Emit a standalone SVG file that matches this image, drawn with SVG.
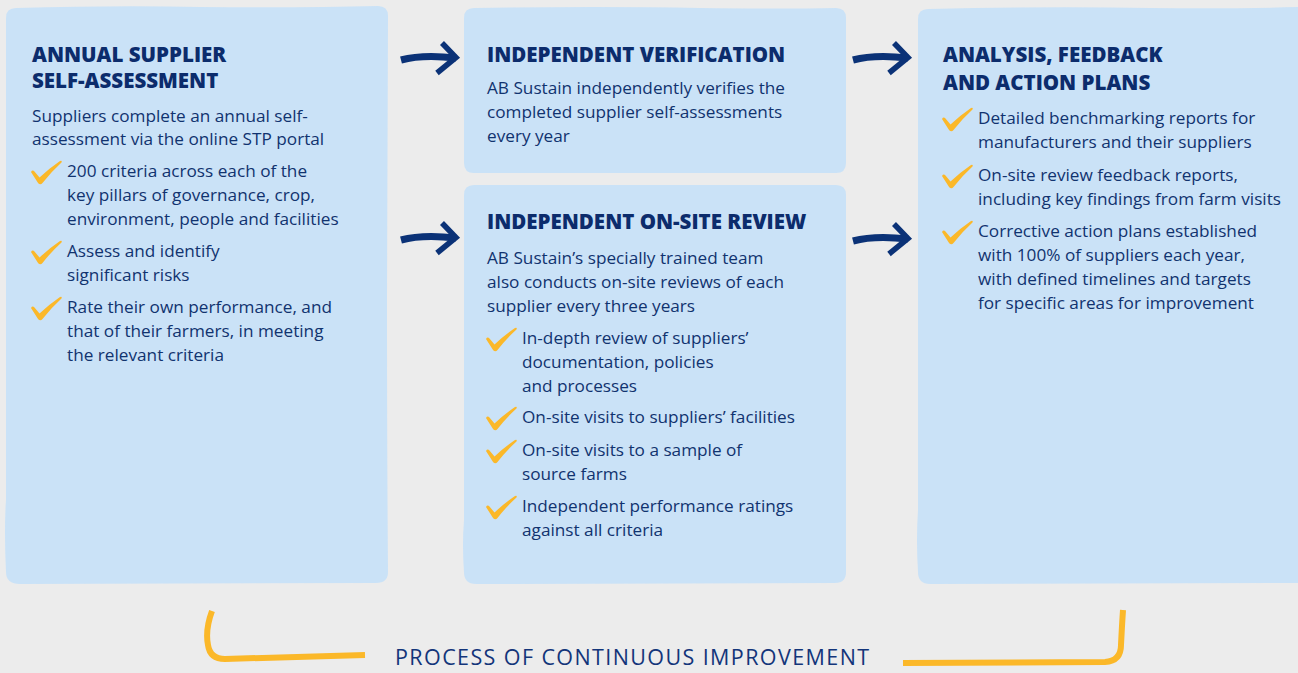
<svg xmlns="http://www.w3.org/2000/svg" xmlns:xlink="http://www.w3.org/1999/xlink" width="1298" height="673" viewBox="0 0 1298 673">
  <style>
    .box { fill: #cae2f7; }
    .title { font-family: "Open Sans", "Liberation Sans", sans-serif; font-weight: 800; font-size: 20.5px; fill: #0c2c6c; }
    .body { font-family: "Open Sans", "Liberation Sans", sans-serif; font-size: 17.2px; fill: #11336f; }
    .footer { font-family: "Open Sans", "Liberation Sans", sans-serif; font-size: 21.5px; fill: #13357a; letter-spacing: 1.4px; }
    .tick { fill: #fbb829; }
    .shaft { fill: none; stroke: #0b3277; stroke-width: 7; stroke-linecap: butt; }
    .head { fill: none; stroke: #0b3277; stroke-width: 5.5; stroke-linejoin: miter; stroke-linecap: butt; }
    .bracket { fill: none; stroke: #fbb829; stroke-width: 6; stroke-linecap: butt; }
  </style>
  <defs>
    <!-- brush tick, origin at its lowest point -->
    <path id="tick" class="tick" d="M-9,-10 Q-7.5,-12.5 -5.5,-10.5 L-0.5,-4.5 Q9,-13.5 20,-21 Q22.5,-22 21.5,-19.5 Q11,-10 2.5,1 Q0.5,3.5 -1.8,1.2 Z"/>
    <!-- hand-drawn arrow, origin at left end of the shaft -->
    <g id="arrow">
      <path class="shaft" d="M0,2 Q22,-4 55,0"/>
      <path class="head" d="M41,-15 L55,-0.5 L36,15"/>
    </g>
  </defs>

  <rect width="1298" height="673" fill="#ececec"/>

  <!-- step 1 -->
  <g id="node-self-assessment">
    <path class="box" d="M16,8 Q120,5 200,7 Q300,8 378,6 Q388,6 388,16 L387,300 Q387,450 388,572 Q388,583 376,583 L20,584 Q6,584 6,572 Q4,530 6,500 L6,18 Q6,8 16,8 Z"/>
    <text class="title" x="32" y="62">ANNUAL SUPPLIER</text>
    <text class="title" x="32" y="88">SELF-ASSESSMENT</text>
    <text class="body" x="32" y="122">Suppliers complete an annual self-</text>
    <text class="body" x="32" y="145">assessment via the online STP portal</text>
    <use xlink:href="#tick" x="40" y="182"/>
    <text class="body" x="67" y="177">200 criteria across each of the</text>
    <text class="body" x="67" y="201">key pillars of governance, crop,</text>
    <text class="body" x="67" y="225">environment, people and facilities</text>
    <use xlink:href="#tick" x="40" y="262"/>
    <text class="body" x="67" y="257">Assess and identify</text>
    <text class="body" x="67" y="281">significant risks</text>
    <use xlink:href="#tick" x="40" y="318"/>
    <text class="body" x="67" y="313">Rate their own performance, and</text>
    <text class="body" x="67" y="337">that of their farmers, in meeting</text>
    <text class="body" x="67" y="361">the relevant criteria</text>
  </g>

  <!-- step 2a -->
  <g id="node-verification">
    <path class="box" d="M474,8 Q600,6 700,8 Q780,9 836,8 Q846,8 846,18 L846,163 Q846,173 836,173 L474,173 Q464,173 464,163 L464,18 Q464,8 474,8 Z"/>
    <text class="title" x="487" y="62">INDEPENDENT VERIFICATION</text>
    <text class="body" x="487" y="94">AB Sustain independently verifies the</text>
    <text class="body" x="487" y="118">completed supplier self-assessments</text>
    <text class="body" x="487" y="142">every year</text>
  </g>

  <!-- step 2b -->
  <g id="node-onsite-review">
    <path class="box" d="M474,185 L836,185 Q846,185 846,195 L846,572 Q846,583 835,583 L476,584 Q464,584 464,572 Q462,545 464,520 L464,195 Q464,185 474,185 Z"/>
    <text class="title" x="487" y="229">INDEPENDENT ON-SITE REVIEW</text>
    <text class="body" x="487" y="264">AB Sustain’s specially trained team</text>
    <text class="body" x="487" y="288">also conducts on-site reviews of each</text>
    <text class="body" x="487" y="312">supplier every three years</text>
    <use xlink:href="#tick" x="495" y="349"/>
    <text class="body" x="522" y="344">In-depth review of suppliers’</text>
    <text class="body" x="522" y="368">documentation, policies</text>
    <text class="body" x="522" y="392">and processes</text>
    <use xlink:href="#tick" x="495" y="428"/>
    <text class="body" x="522" y="423">On-site visits to suppliers’ facilities</text>
    <use xlink:href="#tick" x="495" y="461"/>
    <text class="body" x="522" y="456">On-site visits to a sample of</text>
    <text class="body" x="522" y="480">source farms</text>
    <use xlink:href="#tick" x="495" y="517"/>
    <text class="body" x="522" y="512">Independent performance ratings</text>
    <text class="body" x="522" y="536">against all criteria</text>
  </g>

  <!-- step 3 -->
  <g id="node-analysis">
    <path class="box" d="M928,9 Q1050,6 1150,8 Q1230,9 1300,7 L1300,583 L930,584 Q918,584 918,572 Q916,540 918,510 L918,19 Q918,9 928,9 Z"/>
    <text class="title" x="943" y="62">ANALYSIS, FEEDBACK</text>
    <text class="title" x="943" y="90">AND ACTION PLANS</text>
    <use xlink:href="#tick" x="951" y="129"/>
    <text class="body" x="978" y="124">Detailed benchmarking reports for</text>
    <text class="body" x="978" y="148">manufacturers and their suppliers</text>
    <use xlink:href="#tick" x="951" y="186"/>
    <text class="body" x="978" y="181">On-site review feedback reports,</text>
    <text class="body" x="978" y="205">including key findings from farm visits</text>
    <use xlink:href="#tick" x="951" y="242"/>
    <text class="body" x="978" y="237">Corrective action plans established</text>
    <text class="body" x="978" y="261">with 100% of suppliers each year,</text>
    <text class="body" x="978" y="285">with defined timelines and targets</text>
    <text class="body" x="978" y="309">for specific areas for improvement</text>
  </g>

  <!-- flow arrows -->
  <g id="connectors">
    <use xlink:href="#arrow" x="401" y="58"/>
    <use xlink:href="#arrow" x="401" y="238"/>
    <use xlink:href="#arrow" x="853" y="58"/>
    <use xlink:href="#arrow" x="853" y="239"/>
  </g>

  <!-- continuous improvement loop -->
  <g id="improvement-loop">
    <path class="bracket" d="M212,611 Q205,630 208,645 Q210,659 225,659 L365,655"/>
    <path class="bracket" d="M903,663 L1105,662 Q1121,661 1121,645 Q1122,625 1123,610"/>
    <text class="footer" x="395" y="665">PROCESS OF CONTINUOUS IMPROVEMENT</text>
  </g>
</svg>
